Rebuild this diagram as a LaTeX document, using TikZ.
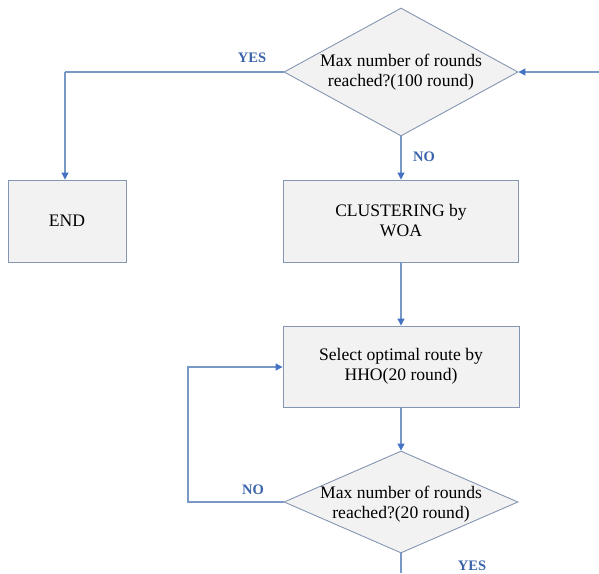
\documentclass[tikz,border=0pt]{standalone}
\usepackage{fontspec}
\setmainfont{Liberation Serif}
\usetikzlibrary{shapes.geometric,arrows.meta}
\definecolor{edgeblue}{RGB}{132,150,178}
\definecolor{lineblue}{RGB}{120,152,200}
\definecolor{tipblue}{RGB}{68,114,196}
\definecolor{labelblue}{RGB}{60,100,170}
\definecolor{boxfill}{RGB}{242,242,242}
\tikzset{
  maintext/.style={font=\fontsize{17.6}{20}\selectfont, align=center},
  procbox/.style={draw=edgeblue, fill=boxfill, line width=0.9pt, inner sep=0pt, maintext},
  decision/.style={draw=edgeblue, fill=boxfill, line width=0.9pt, inner sep=0pt, diamond},
  flow/.style={draw=lineblue, line width=1.1pt,
    -{Triangle[length=7pt,width=7pt,color=tipblue]}},
  plainflow/.style={draw=lineblue, line width=1.1pt},
  answer/.style={text=labelblue, font=\fontsize{14.5}{16}\selectfont\bfseries}
}
\begin{document}
\begin{tikzpicture}[x=1pt,y=-1pt]
\useasboundingbox (0,0) rectangle (599,573);

% decision on total rounds
\node[decision, minimum width=234pt, minimum height=128pt, aspect=1.83] (d1) at (401,72) {};
\node[maintext] (d1t) at (401,72) {Max number of rounds\\reached?(100 round)};

% end box
\node[procbox, minimum width=118pt, minimum height=82pt] (endb) at (67,221) {END};

% clustering
\node[procbox, minimum width=235pt, minimum height=82pt] (clu) at (401,221) {CLUSTERING by\\WOA};

% route selection
\node[procbox, minimum width=236pt, minimum height=81pt] (sel) at (401,366.5) {Select optimal route by\\HHO(20 round)};

% decision on inner rounds
\node[decision, minimum width=234pt, minimum height=102pt, aspect=2.3] (d2) at (401,502) {};
\node[maintext] (d2t) at (401,504) {Max number of rounds\\reached?(20 round)};

% loose ends
\coordinate (inR) at (599,72);
\coordinate (yesCorner) at (65,72);
\coordinate (loopA) at (188,502);
\coordinate (loopB) at (188,367);
\coordinate (outB) at (401,573);

% connectors
\draw[flow] (inR) -- (d1.east);
\draw[plainflow] (d1.west) -- (yesCorner);
\draw[flow] (yesCorner) -- (yesCorner |- endb.north);
\draw[flow] (d1.south) -- (clu.north);
\draw[flow] (clu.south) -- (sel.north);
\draw[flow] (sel.south) -- (d2.north);
\draw[flow] (d2.west) -- (loopA) -- (loopB) -- (loopB -| sel.west);
\draw[plainflow] (d2.south) -- (outB);

% branch labels
\node[answer] (yes1) at (252,58) {YES};
\node[answer] (no1) at (424,157) {NO};
\node[answer] (no2) at (253,490) {NO};
\node[answer] (yes2) at (472,566) {YES};
\end{tikzpicture}
\end{document}
